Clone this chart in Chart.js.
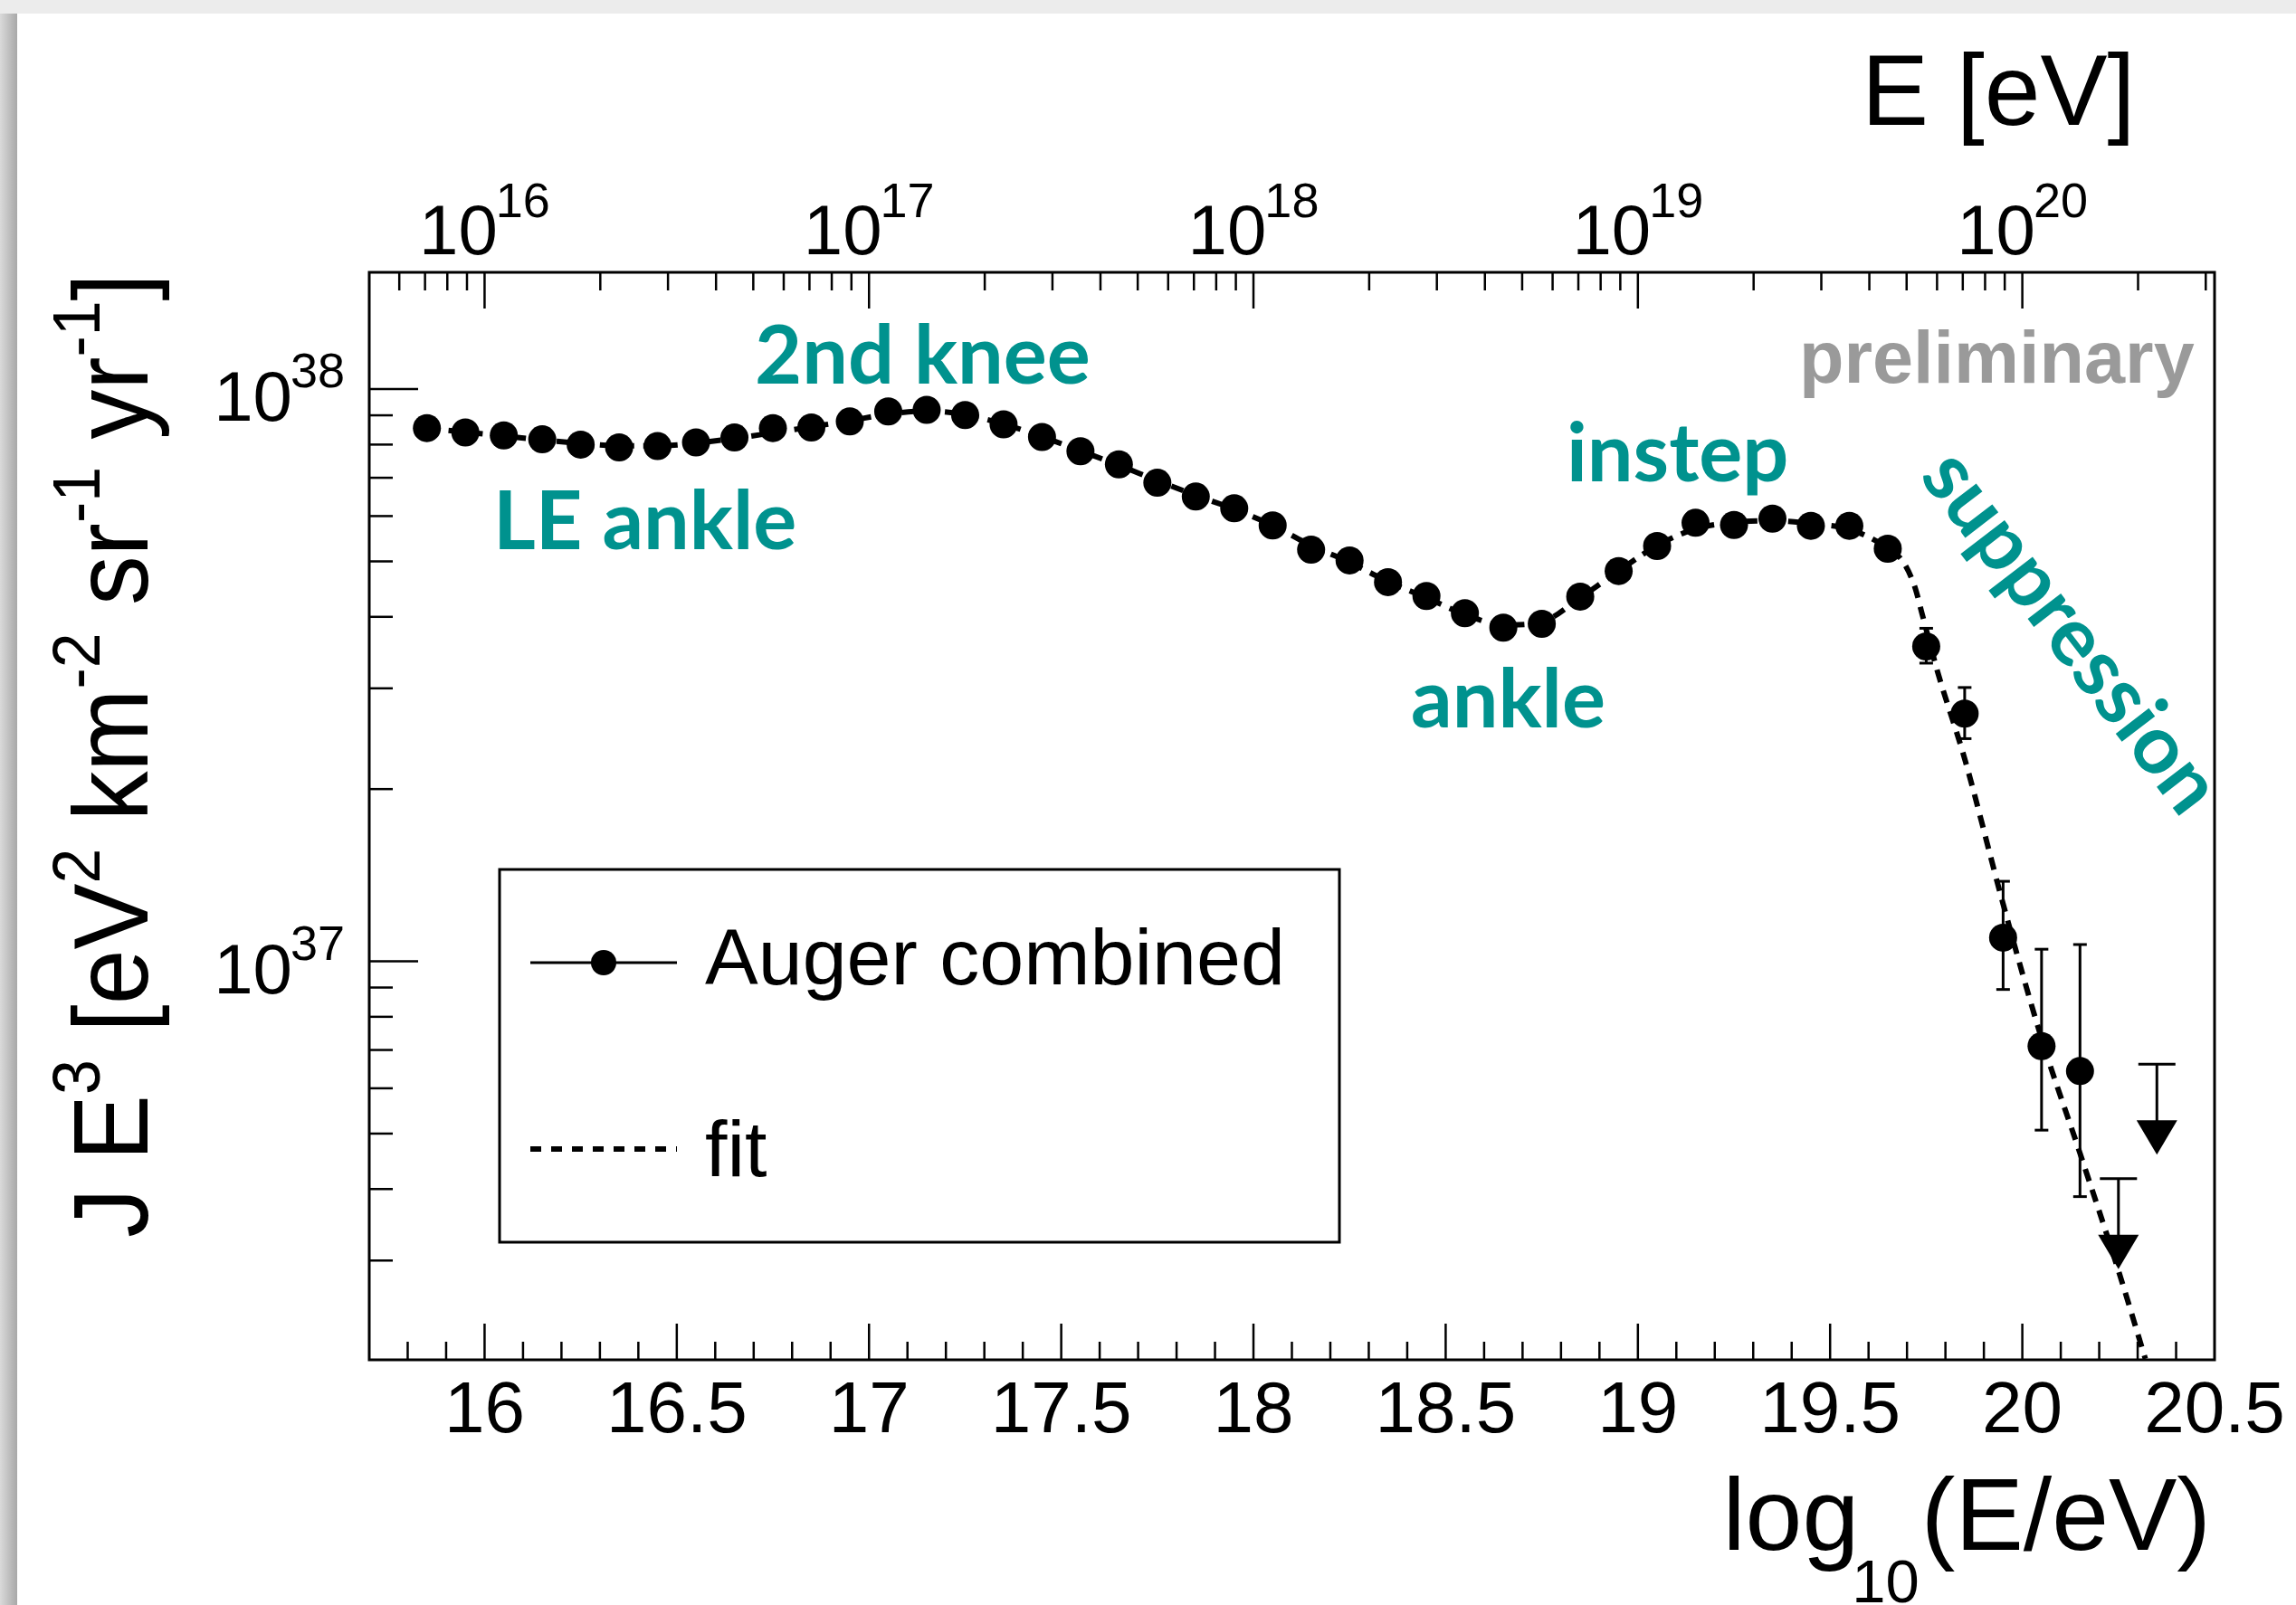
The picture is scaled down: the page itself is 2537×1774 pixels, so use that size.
<!DOCTYPE html>
<html>
<head>
<meta charset="utf-8">
<script src="https://cdn.jsdelivr.net/npm/chart.js@4.4.1/dist/chart.umd.min.js"></script>
<style>
  html, body { margin: 0; padding: 0; background: #fff; overflow: hidden; }
  canvas { display: block; }
</style>
</head>
<body>
<canvas id="spectrum" width="2537" height="1774"></canvas>
<script>
// ---- Combined energy spectrum, J E^3 [eV^2 km^-2 sr^-1 yr^-1] ----
const logE = [15.85, 15.95, 16.05, 16.15, 16.25, 16.35, 16.45, 16.55, 16.65, 16.75,
              16.85, 16.95, 17.05, 17.15, 17.25, 17.35, 17.45, 17.55, 17.65, 17.75,
              17.85, 17.95, 18.05, 18.15, 18.25, 18.35, 18.45, 18.55, 18.65, 18.75,
              18.85, 18.95, 19.05, 19.15, 19.25, 19.35, 19.45, 19.55, 19.65, 19.75,
              19.85, 19.95, 20.05, 20.15];
const flux = [8.55e37, 8.40e37, 8.30e37, 8.17e37, 8.00e37, 7.91e37, 7.95e37, 8.07e37, 8.23e37, 8.55e37,
              8.57e37, 8.78e37, 9.14e37, 9.20e37, 9.01e37, 8.68e37, 8.25e37, 7.79e37, 7.39e37, 6.86e37,
              6.49e37, 6.19e37, 5.78e37, 5.24e37, 5.02e37, 4.60e37, 4.35e37, 4.06e37, 3.83e37, 3.89e37,
              4.34e37, 4.81e37, 5.32e37, 5.84e37, 5.79e37, 5.94e37, 5.77e37, 5.77e37, 5.26e37, 3.55e37,
              2.71e37, 1.10e37, 7.11e36, 6.43e36];

// error bars that stick out of the markers
const errLogE = [19.75, 19.85, 19.95, 20.05, 20.15];
const errHigh = [3.82e37, 3.01e37, 1.38e37, 1.05e37, 1.07e37];
const errLow  = [3.32e37, 2.45e37, 8.93e36, 5.07e36, 3.88e36];

// upper limits in the last bins
const ulLogE = [20.25, 20.35];
const ulFlux = [4.17e36, 6.61e36];

// fitted spectrum
const fitLogE = [15.85, 15.95, 16.05, 16.15, 16.25, 16.35, 16.45, 16.55, 16.65, 16.75,
                 16.85, 16.95, 17.05, 17.15, 17.25, 17.35, 17.45, 17.55, 17.65, 17.75,
                 17.85, 17.95, 18.05, 18.15, 18.25, 18.35, 18.45, 18.55, 18.65, 18.75,
                 18.85, 18.95, 19.05, 19.15, 19.25, 19.35, 19.45, 19.55, 19.65,
                 19.69, 19.72, 19.74, 19.78, 19.85, 19.95, 20.05, 20.15, 20.25, 20.32];
const fitFlux = [8.55e37, 8.41e37, 8.28e37, 8.15e37, 8.04e37, 7.96e37, 7.96e37, 8.05e37, 8.20e37, 8.39e37,
                 8.59e37, 8.81e37, 9.04e37, 9.16e37, 9.02e37, 8.69e37, 8.26e37, 7.80e37, 7.36e37, 6.92e37,
                 6.52e37, 6.17e37, 5.78e37, 5.33e37, 4.98e37, 4.61e37, 4.32e37, 4.04e37, 3.87e37, 3.92e37,
                 4.32e37, 4.81e37, 5.33e37, 5.70e37, 5.85e37, 5.89e37, 5.82e37, 5.69e37, 5.27e37,
                 4.99e37, 4.52e37, 4.03e37, 3.20e37, 2.26e37, 1.26e37, 7.33e36, 4.62e36, 2.88e36, 2.02e36];

// axis labelling
const bottomTickValues = [16, 16.5, 17, 17.5, 18, 18.5, 19, 19.5, 20, 20.5];
const bottomTickLabels = ['16', '16.5', '17', '17.5', '18', '18.5', '19', '19.5', '20', '20.5'];
const topExponents = [16, 17, 18, 19, 20];
const yExponents = [37, 38];
const xRange = [15.7, 20.5];
const yRange = [2.012e36, 1.6e38];

// feature names written on the plot
const featureNames = ['2nd knee', 'LE ankle', 'instep', 'ankle', 'suppression'];

// ---- drawing ----
const HELV = '"Liberation Sans", Arial, Helvetica, sans-serif';
const TEAL = '#00928e';

const layoutText = {
  features: [
    { x: 834, y: 424, rot: 0 },
    { x: 545, y: 607, rot: 0 },
    { x: 1731, y: 532, rot: 0 },
    { x: 1559, y: 804, rot: 0 },
    { x: 2120, y: 527, rot: 52.5 }
  ],
  featureFont: '700 90px Lato, "Open Sans", sans-serif',
  prelim: { text: 'preliminary', x: 1988, y: 423, font: 'bold 81px ' + HELV, color: '#9a9a9a' }
};

function powerLabel(ctx, exp, x, yBase, ySup, align) {
  ctx.font = '78px ' + HELV;
  const wb = ctx.measureText('10').width;
  ctx.font = '54px ' + HELV;
  const ws = ctx.measureText(String(exp)).width;
  const gap = -2;
  const total = wb + gap + ws;
  const x0 = align === 'center' ? x - total / 2 : x - total;
  ctx.textAlign = 'left';
  ctx.font = '78px ' + HELV;
  ctx.fillText('10', x0, yBase);
  ctx.font = '54px ' + HELV;
  ctx.fillText(String(exp), x0 + wb + gap, ySup);
}

function seg(ctx, x1, y1, x2, y2) {
  ctx.beginPath(); ctx.moveTo(x1, y1); ctx.lineTo(x2, y2); ctx.stroke();
}

const pagePlugin = {
  id: 'page',
  beforeDraw(chart) {
    const { ctx, width, height } = chart;
    ctx.save();
    ctx.fillStyle = '#ffffff';
    ctx.fillRect(0, 0, width, height);
    ctx.fillStyle = '#ececec';
    ctx.fillRect(0, 0, width, 15);
    const g = ctx.createLinearGradient(0, 0, 19, 0);
    g.addColorStop(0, '#dadada');
    g.addColorStop(1, '#a8a8a8');
    ctx.fillStyle = g;
    ctx.fillRect(0, 15, 19, height - 15);
    ctx.restore();
  }
};

const framePlugin = {
  id: 'rootFrame',
  afterDatasetsDraw(chart) {
    const { ctx, chartArea: a, scales: { x, y } } = chart;
    ctx.save();
    ctx.strokeStyle = '#000';
    ctx.fillStyle = '#000';

    // error bars
    ctx.lineWidth = 3;
    errLogE.forEach((e, i) => {
      const px = x.getPixelForValue(e);
      const hi = y.getPixelForValue(errHigh[i]);
      const lo = y.getPixelForValue(errLow[i]);
      seg(ctx, px, hi, px, lo);
      seg(ctx, px - 7.5, hi, px + 7.5, hi);
      seg(ctx, px - 7.5, lo, px + 7.5, lo);
    });

    // upper limits: bar at the limit, stem and arrow head
    ulLogE.forEach((e, i) => {
      const px = x.getPixelForValue(e);
      const py = y.getPixelForValue(ulFlux[i]);
      seg(ctx, px - 20.5, py, px + 20.5, py);
      seg(ctx, px, py, px, py + 63);
      ctx.beginPath();
      ctx.moveTo(px - 22.5, py + 62);
      ctx.lineTo(px + 22.5, py + 62);
      ctx.lineTo(px, py + 100);
      ctx.closePath();
      ctx.fill();
    });

    // frame
    ctx.lineWidth = 3;
    ctx.strokeRect(a.left, a.top, a.right - a.left, a.bottom - a.top);

    // ticks
    ctx.lineWidth = 2.5;
    for (let i = Math.ceil(x.min * 10 + 1e-6); i <= Math.floor(x.max * 10 - 1e-6); i++) {
      const px = x.getPixelForValue(i / 10);
      seg(ctx, px, a.bottom, px, a.bottom - (i % 5 === 0 ? 40 : 20));
    }
    for (let n = Math.floor(x.min); n <= Math.ceil(x.max); n++) {
      for (let k = 1; k <= 9; k++) {
        const v = n + Math.log10(k);
        if (v <= x.min + 1e-6 || v >= x.max - 1e-6) continue;
        const px = x.getPixelForValue(v);
        seg(ctx, px, a.top, px, a.top + (k === 1 ? 40 : 20));
      }
    }
    for (let n = Math.floor(Math.log10(y.min)); n <= Math.ceil(Math.log10(y.max)); n++) {
      for (let k = 1; k <= 9; k++) {
        const v = k * Math.pow(10, n);
        if (v <= y.min || v >= y.max) continue;
        const py = y.getPixelForValue(v);
        seg(ctx, a.left, py, a.left + (k === 1 ? 54 : 26), py);
      }
    }

    // bottom tick labels
    ctx.font = '80px ' + HELV;
    ctx.textAlign = 'center';
    ctx.textBaseline = 'alphabetic';
    bottomTickValues.forEach((v, i) => {
      ctx.fillText(bottomTickLabels[i], x.getPixelForValue(v), a.bottom + 80);
    });

    // top (energy) tick labels
    topExponents.forEach(e => {
      powerLabel(ctx, e, x.getPixelForValue(e), a.top - 20, a.top - 61, 'center');
    });

    // left tick labels
    yExponents.forEach(e => {
      const py = y.getPixelForValue(Math.pow(10, e));
      powerLabel(ctx, e, a.left - 27, py + 35, py - 2, 'right');
    });

    // top axis title
    ctx.textAlign = 'left';
    ctx.font = '111px ' + HELV;
    ctx.fillText('E [eV]', 2057, 138);

    // bottom axis title, right aligned to the frame
    ctx.font = '113px ' + HELV;
    const w1 = ctx.measureText('log').width;
    const w3 = ctx.measureText('(E/eV)').width;
    ctx.font = '67px ' + HELV;
    const w2 = ctx.measureText('10').width;
    const x0 = a.right - (w1 + w2 + w3) + 2;
    ctx.font = '113px ' + HELV;
    ctx.fillText('log', x0, 1713);
    ctx.fillText('(E/eV)', x0 + w1 + w2 - 6, 1713);
    ctx.font = '67px ' + HELV;
    ctx.fillText('10', x0 + w1 - 8, 1771);

    // vertical axis title
    const parts = [['J E', 0], ['3', 1], [' [eV', 0], ['2', 1], [' km', 0], ['-2', 1],
                   [' sr', 0], ['-1', 1], [' yr', 0], ['-1', 1], [']', 0]];
    const fBase = '116px ' + HELV, fSup = '74px ' + HELV;
    let total = 0;
    parts.forEach(p => { ctx.font = p[1] ? fSup : fBase; total += ctx.measureText(p[0]).width; });
    const startY = 1368, endY = 302;
    const squeeze = (startY - endY) / total;
    ctx.save();
    ctx.translate(162.5, startY);
    ctx.rotate(-Math.PI / 2);
    ctx.scale(squeeze, 1);
    let cx = 0;
    parts.forEach(p => {
      ctx.font = p[1] ? fSup : fBase;
      ctx.fillText(p[0], cx, p[1] ? -53 : 0);
      cx += ctx.measureText(p[0]).width;
    });
    ctx.restore();

    // legend
    const ds = chart.data.datasets;
    ctx.lineWidth = 3;
    ctx.strokeRect(552, 961, 928, 412);
    ctx.lineWidth = 3;
    seg(ctx, 586, 1064, 748, 1064);
    ctx.beginPath(); ctx.arc(667, 1064, 14, 0, Math.PI * 2); ctx.fill();
    ctx.lineWidth = ds[1].borderWidth;
    ctx.setLineDash([12, 11]);
    seg(ctx, 586, 1270, 748, 1270);
    ctx.setLineDash([]);
    ctx.font = '88px ' + HELV;
    ctx.textAlign = 'left';
    ctx.fillText(ds[0].label, 779, 1088);
    ctx.fillText(ds[1].label, 779, 1300);

    // preliminary stamp
    const pr = layoutText.prelim;
    ctx.font = pr.font;
    ctx.fillStyle = pr.color;
    ctx.fillText(pr.text, pr.x, pr.y);

    // feature names
    ctx.fillStyle = TEAL;
    ctx.font = layoutText.featureFont;
    featureNames.forEach((t, i) => {
      const f = layoutText.features[i];
      ctx.save();
      ctx.translate(f.x, f.y);
      ctx.rotate(f.rot * Math.PI / 180);
      ctx.fillText(t, 0, 0);
      ctx.restore();
    });

    ctx.restore();
  }
};

function build() {
  const ctx = document.getElementById('spectrum').getContext('2d');
  new Chart(ctx, {
    type: 'scatter',
    data: {
      datasets: [
        {
          label: 'Auger combined',
          data: logE.map((e, i) => ({ x: e, y: flux[i] })),
          showLine: false,
          pointStyle: 'circle',
          pointRadius: 15.5,
          pointHoverRadius: 15.5,
          pointBackgroundColor: '#000',
          pointBorderColor: '#000',
          pointBorderWidth: 0
        },
        {
          label: 'fit',
          data: fitLogE.map((e, i) => ({ x: e, y: fitFlux[i] })),
          showLine: true,
          borderColor: '#000',
          borderWidth: 6,
          borderDash: [14, 10],
          pointRadius: 0,
          pointHoverRadius: 0,
          cubicInterpolationMode: 'monotone',
          fill: false
        }
      ]
    },
    options: {
      responsive: false,
      animation: false,
      devicePixelRatio: 1,
      events: [],
      layout: { padding: { left: 408, top: 301, right: 90, bottom: 271 } },
      plugins: { legend: { display: false }, tooltip: { enabled: false } },
      scales: {
        x: { type: 'linear', min: xRange[0], max: xRange[1], display: false },
        y: { type: 'logarithmic', min: yRange[0], max: yRange[1], display: false }
      }
    },
    plugins: [pagePlugin, framePlugin]
  });
}

Promise.all([
  document.fonts.load('700 90px Lato'),
  document.fonts.load('80px "Liberation Sans"'),
  document.fonts.load('bold 80px "Liberation Sans"')
]).then(build, build);
</script>
</body>
</html>
